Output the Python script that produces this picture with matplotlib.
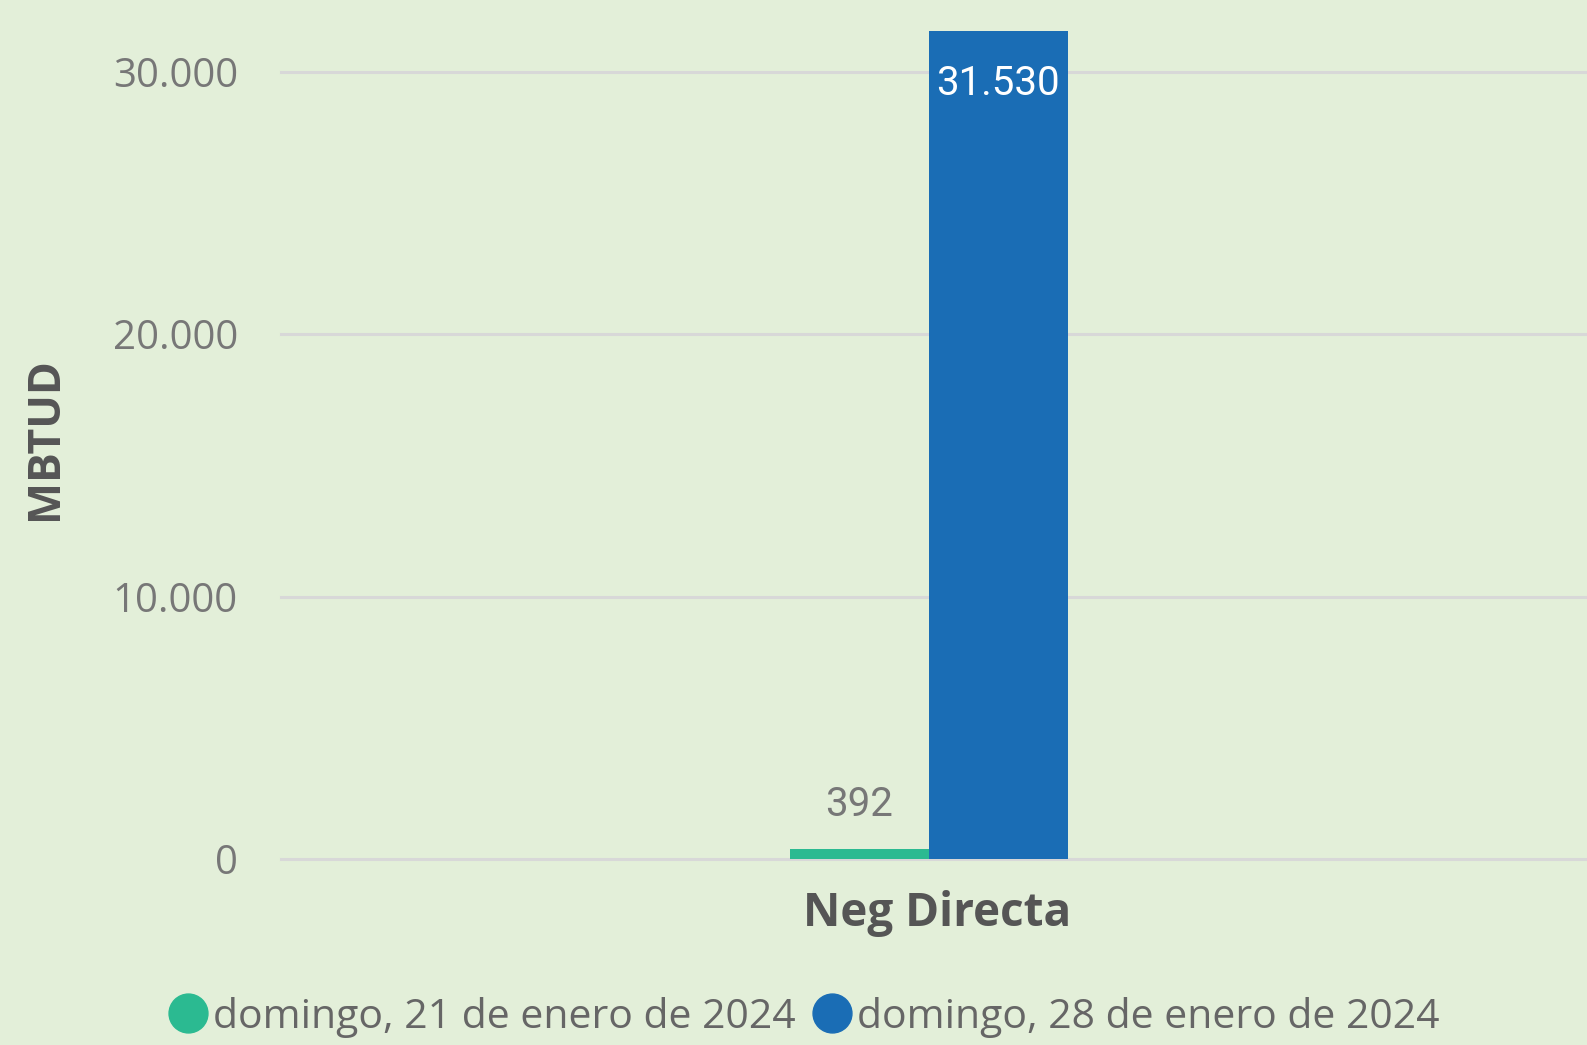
import numpy as np
import matplotlib
matplotlib.use("Agg")
import matplotlib.pyplot as plt
from matplotlib.lines import Line2D
from matplotlib.transforms import ScaledTranslation

categories = ["Neg Directa"]
series_names = ["domingo, 21 de enero de 2024", "domingo, 28 de enero de 2024"]
values_21 = [392]
values_28 = [31530]
yticks = [0, 10000, 20000, 30000]

bg = "#e3efd9"
green = "#2bba91"
blue = "#1a6db5"

fig = plt.figure(figsize=(15.87, 10.45), dpi=100, facecolor=bg)
ax = fig.add_axes([281 / 1587, 1 - 859 / 1045, 1 - 281 / 1587, (859 - 6) / 1045])
ax.set_facecolor(bg)

x = np.arange(len(categories))
w = 0.2
b1 = ax.bar(x - w / 2, values_21, w, color=green, zorder=3)
b2 = ax.bar(x + w / 2, values_28, w, color=blue, zorder=3)

ax.set_xlim(-0.932, 0.947)
ax.set_ylim(0, 32500)
ax.set_yticks(yticks)
ax.set_yticklabels([f"{v:,}".replace(",", ".") for v in yticks],
                   fontsize=29, color="#777777", family="Open Sans")
ax.tick_params(axis="y", length=0, pad=31)
ax.set_xticks(x)
ax.set_xticklabels(categories, fontsize=33, fontweight="bold", color="#555555", family="Open Sans")
ax.tick_params(axis="x", length=0, pad=22)
for lbl in ax.get_xticklabels():
    lbl.set_transform(lbl.get_transform() + ScaledTranslation(0.08, 0, fig.dpi_scale_trans))
ax.grid(axis="y", color="#d8d8d8", linewidth=2.2, zorder=0)
for gl in ax.get_ygridlines():
    gl.set_clip_on(False)
for s in ax.spines.values():
    s.set_visible(False)

ax.set_ylabel("MBTUD", fontsize=32, fontweight="bold", color="#555555", family="Open Sans")
ax.yaxis.set_label_coords(-(281 - 68) / 1306, 0.493)

for rect, v in zip(b1, values_21):
    ax.annotate(f"{v:,}".replace(",", "."), (rect.get_x() + rect.get_width() / 2, v),
                xytext=(0, 44), textcoords="offset pixels", ha="center", va="center",
                fontsize=29, color="#777777", family="Roboto")
for rect, v in zip(b2, values_28):
    ax.annotate(f"{v:,}".replace(",", "."), (rect.get_x() + rect.get_width() / 2, v),
                xytext=(0, -52), textcoords="offset pixels", ha="center", va="center",
                fontsize=29, color="white", family="Roboto")

handles = [Line2D([], [], marker="o", linestyle="", markersize=28, color=c) for c in (green, blue)]
fig.legend(handles, series_names, loc="center", bbox_to_anchor=(0.505, 1 - 1017 / 1045),
           ncol=2, frameon=False, labelcolor="#666666",
           handletextpad=0.0, columnspacing=0.3, handlelength=1.2,
           prop={"family": "Open Sans", "size": 29.5})

fig.savefig("out.png", dpi=100, facecolor=bg)
